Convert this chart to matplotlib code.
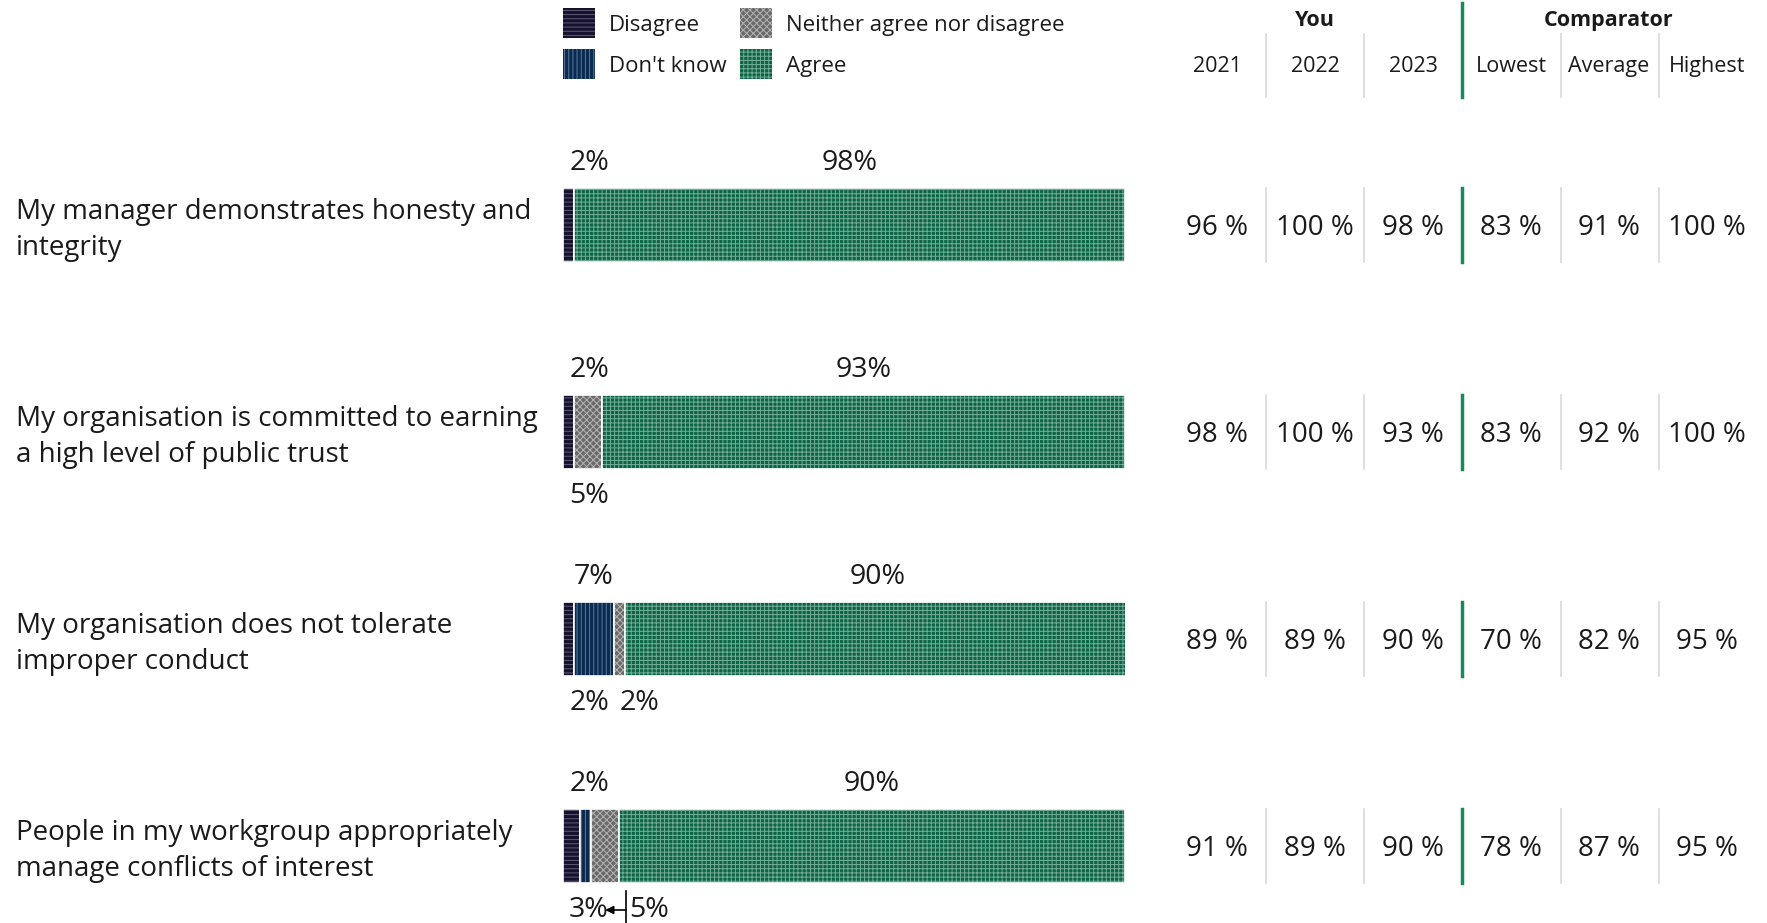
import numpy as np
import matplotlib
matplotlib.use("Agg")
from matplotlib import pyplot as plt

plt.rcParams['font.family'] = ['Open Sans', 'DejaVu Sans']
plt.rcParams['hatch.linewidth'] = 0.7

# ---- data ----
questions = [
    "My manager demonstrates honesty and\nintegrity",
    "My organisation is committed to earning\na high level of public trust",
    "My organisation does not tolerate\nimproper conduct",
    "People in my workgroup appropriately\nmanage conflicts of interest",
]
categories = ["Disagree", "Don't know", "Neither agree nor disagree", "Agree"]
disagree = [2, 2, 2, 3]
dont_know = [0, 0, 7, 2]
neither = [0, 5, 2, 5]
agree = [98, 93, 90, 90]
# where each segment's label sits: 't' above, 'b' below, '' none
label_side = [
    ['t', '', '', 't'],
    ['t', '', 'b', 't'],
    ['b', 't', 'b', 't'],
    ['b', 't', 'b', 't'],
]
col_groups = ["You", "Comparator"]
col_labels = ["2021", "2022", "2023", "Lowest", "Average", "Highest"]
table = [
    [96, 100, 98, 83, 91, 100],
    [98, 100, 93, 83, 92, 100],
    [89, 89, 90, 70, 82, 95],
    [91, 89, 90, 78, 87, 95],
]

# ---- styles ----
W, H = 1767, 923
face = ['#16122d', '#0b2a50', '#6a6a6a', '#0b6446']
hatch_col = ['#5f5c78', '#5a7aa0', '#b5b5b5', '#74ad97']
hatches = ['----', '||||', 'xxxxx', '++++']
txt = '#1a1a1a'
row0, row_step = 225, 207          # px centre of first row, spacing
bar_x0, bar_w = 563, 562           # px

def ry(px):
    return (px - row0) / row_step

def rx(pct):
    return bar_x0 + pct / 100 * bar_w

fig = plt.figure(figsize=(W / 100, H / 100), dpi=100)
ylim = (ry(H), ry(0))
ax = fig.add_axes([0, 0, 1, 1])
ax.set_xlim(0, W)
ax.set_ylim(*ylim)
ax.axis('off')

bx = fig.add_axes([bar_x0 / W, 0, bar_w / W, 1])
bx.set_xlim(0, 100)
bx.set_ylim(*ylim)
bx.axis('off')

series = np.array([disagree, dont_know, neither, agree], dtype=float)
rows = np.arange(len(questions))
bar_h = 74 / row_step
left = np.zeros(len(questions))
for k in range(4):
    vals = series[k]
    bx.barh(rows, vals, left=left, height=bar_h, color=face[k],
            edgecolor=hatch_col[k], hatch=hatches[k], linewidth=0)
    bx.barh(rows, vals, left=left, height=bar_h, fill=False,
            edgecolor='white', linewidth=1.2)
    left += vals

# segment labels with simple collision avoidance
for i in rows:
    starts = np.concatenate([[0], np.cumsum(series[:, i])[:-1]])
    prev = {'t': -1e9, 'b': -1e9}
    for k in range(4):
        side = label_side[i][k]
        v = series[k, i]
        if not side or v == 0:
            continue
        centre = rx(starts[k] + v / 2)
        x = max(centre, bar_x0 + 26, prev[side] + 50)
        y = ry(row0 + i * row_step + (-62 if side == 't' else 64))
        if x - centre > 25:
            x += 10
            ax.annotate('', xy=(centre, y), xytext=(x - 23, y),
                        arrowprops=dict(arrowstyle='-|>', color='black', lw=1.2,
                                        shrinkA=0, shrinkB=0, mutation_scale=12))
            ax.plot([x - 23, x - 23], [y - 0.09, y + 0.09], color='black', lw=1.2)
        ax.text(x, y, f"{int(v)}%", ha='center', va='center', fontsize=20.5, color=txt)
        prev[side] = x

# question labels
for i, q in enumerate(questions):
    ax.text(16, i + ry(row0 + 5), q, ha='left', va='center', fontsize=20,
            color=txt, linespacing=1.4)

# table
col_x = [1217, 1315, 1413, 1511, 1609, 1707]
sep_x = [1266, 1364, 1462, 1561, 1659]
green = '#178a5a'
ax.text(np.mean(col_x[:3]), ry(21), col_groups[0], ha='center', va='center',
        fontsize=15.5, fontweight='bold', color=txt)
ax.text(np.mean(col_x[3:]), ry(21), col_groups[1], ha='center', va='center',
        fontsize=15.5, fontweight='bold', color=txt)
for x, lab in zip(col_x, col_labels):
    ax.text(x, ry(67), lab, ha='center', va='center', fontsize=15.5, color=txt)
for x in sep_x:
    if x == 1462:
        ax.plot([x, x], [ry(3), ry(97)], color=green, lw=2.5)
    else:
        ax.plot([x, x], [ry(34), ry(97)], color='#d9d9d9', lw=1.2)

for i, vals in enumerate(table):
    for x, v in zip(col_x, vals):
        ax.text(x, i + ry(row0 + 3), f"{v} %", ha='center', va='center',
                fontsize=20, color=txt)
    for x in sep_x:
        if x == 1462:
            ax.plot([x, x], [i - bar_h / 2, i + bar_h / 2], color=green, lw=2.5)
        else:
            ax.plot([x, x], [i - bar_h / 2, i + bar_h / 2], color='#d9d9d9', lw=1.2)

# legend
leg_pos = [(563, 23), (563, 64), (740, 23), (740, 64)]
for k, (lx, ly) in enumerate(leg_pos):
    ax.add_patch(plt.Rectangle((lx, ry(ly) - 15 / row_step), 32, 30 / row_step,
                               facecolor=face[k], edgecolor=hatch_col[k],
                               hatch=hatches[k], linewidth=0))
    ax.text(lx + 46, ry(ly + 3), categories[k], ha='left', va='center',
            fontsize=16, color=txt)

fig.savefig('out.png', dpi=100)
